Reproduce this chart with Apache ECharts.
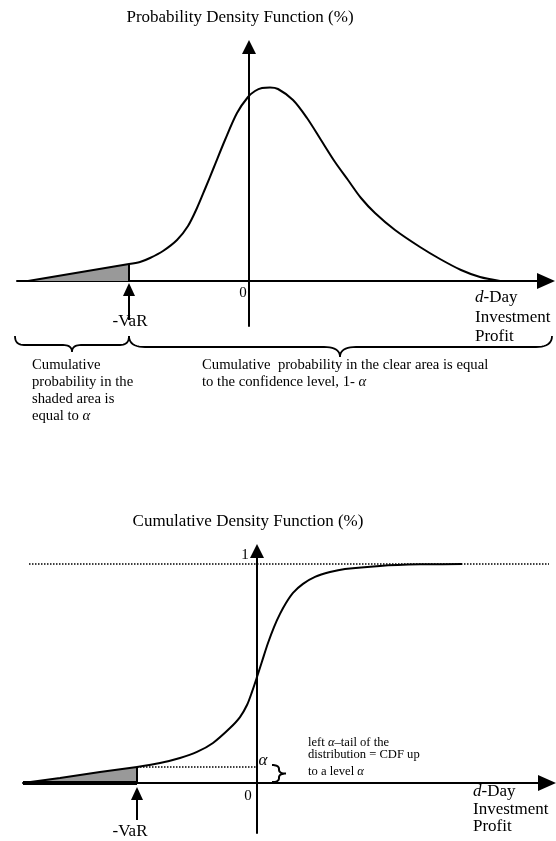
<!DOCTYPE html>
<html><head><meta charset="utf-8">
<script src="https://cdn.jsdelivr.net/npm/echarts@6/dist/echarts.min.js"></script>
<style>html,body{margin:0;padding:0;background:#fff}#c{width:556px;height:841px}</style>
</head><body><div id="c"></div>
<script>
// Profit (x) in arbitrary units, 0 = origin
const pdfX = [-22.1,-12.0,-10.9,-9.9,-8.6,-7.2,-6.1,-5.2,-4.4,-3.5,-2.4,-1.2,-0.1,0.6,1.3,2.1,2.9,4.4,5.8,7.2,8.6,9.9,11.2,12.6,14.6,17.1,19.1,21.2,23.1,25.1];
const pdfY = [0,1.7,1.9,2.3,3.0,4.1,5.5,7.3,9.2,11.4,14.1,16.8,18.4,19.0,19.3,19.35,19.2,18.1,16.3,14.1,11.9,10.1,8.3,6.8,5.1,3.4,2.2,1.1,0.4,0];
const cdfX = [-23.4,-19.7,-15.7,-12.0,-9.7,-7.7,-6.0,-4.4,-2.7,-1.7,-1.0,-0.5,0,0.5,1.1,1.7,2.3,2.9,3.6,4.6,5.8,7.3,8.8,12.3,16.3,20.5];
const cdfY = [0,0.023,0.050,0.073,0.091,0.114,0.142,0.183,0.251,0.301,0.356,0.416,0.484,0.555,0.639,0.712,0.772,0.822,0.868,0.909,0.941,0.963,0.977,0.991,0.998,1.0];
const varX = -12.0;
const alphaLevel = 0.073;
const cdfMax = 1;
const oneLineX = [-22.8, 29.3];

const FONT = '"Liberation Serif","Times New Roman",serif';
const chart = echarts.init(document.getElementById('c'), null, {renderer:'canvas'});

const pdfData = pdfX.map((x,i)=>[x,pdfY[i]]);
const cdfData = cdfX.map((x,i)=>[x,cdfY[i]]);
const pdfTail = pdfData.filter(p=>p[0]<=varX).concat([[varX,0]]);
const cdfTail = cdfData.filter(p=>p[0]<=varX).concat([[varX,0]]);
const pdfBody = pdfData.filter(p=>p[0]>=varX);
const cdfBody = cdfData.filter(p=>p[0]>=varX);

function axisX(grid, min, max){
  return {gridIndex:grid, type:'value', min:min, max:max,
    axisLine:{show:true, onZero:true, lineStyle:{color:'#000', width:2}, symbol:['none','triangle'], symbolSize:[16,18]},
    axisTick:{show:false}, axisLabel:{show:false}, splitLine:{show:false}};
}
function axisY(grid, min, max){
  return {gridIndex:grid, type:'value', min:min, max:max,
    axisLine:{show:true, onZero:true, lineStyle:{color:'#000', width:2}, symbol:['none','triangle'], symbolSize:[14,14]},
    axisTick:{show:false}, axisLabel:{show:false}, splitLine:{show:false}};
}
function arrowSeries(xi, yFrom, yTo){
  return {type:'line', xAxisIndex:xi, yAxisIndex:xi, data:[], symbol:'none',
    markLine:{silent:true, symbol:['none','triangle'], symbolSize:[12,13], animation:false,
      lineStyle:{color:'#000', width:2, type:'solid'}, label:{show:false},
      data:[[{coord:[varX,yFrom]},{coord:[varX,yTo]}]]}};
}

const option = {
  animation:false,
  backgroundColor:'#fff',
  grid:[
    {left:17, top:47, width:529, height:279},
    {left:23, top:551, width:524, height:282}
  ],
  xAxis:[axisX(0,-23.2,29.7), axisX(1,-23.4,29.0)],
  yAxis:[axisY(0,-4.5,23.4), axisY(1,-0.228,1.059)],
  series:[
    {type:'line', xAxisIndex:0, yAxisIndex:0, data:pdfBody, symbol:'none', smooth:0.3,
      lineStyle:{color:'#000', width:2}, z:3},
    {type:'line', xAxisIndex:0, yAxisIndex:0, data:pdfTail, symbol:'none',
      lineStyle:{color:'#000', width:2}, areaStyle:{color:'#999', opacity:1}, z:2},
    arrowSeries(0, -3.9, -0.85),
    {type:'line', xAxisIndex:1, yAxisIndex:1, data:cdfBody, symbol:'none', smooth:0.3,
      lineStyle:{color:'#000', width:2}, z:3},
    {type:'line', xAxisIndex:1, yAxisIndex:1, data:cdfTail, symbol:'none',
      lineStyle:{color:'#000', width:2}, areaStyle:{color:'#999', opacity:1}, z:2},
    {type:'line', xAxisIndex:1, yAxisIndex:1, data:[[cdfX[0],0],[varX,0]], symbol:'none',
      lineStyle:{color:'#000', width:4}, z:4},
    {type:'line', xAxisIndex:1, yAxisIndex:1, data:[[varX,alphaLevel],[0,alphaLevel]], symbol:'none',
      lineStyle:{color:'#000', width:1.5, type:[1.5,1.5]}, z:2},
    {type:'line', xAxisIndex:1, yAxisIndex:1, data:[[oneLineX[0],cdfMax],[oneLineX[1],cdfMax]], symbol:'none', clip:false,
      lineStyle:{color:'#000', width:1.5, type:[1.5,1.5]}, z:1},
    arrowSeries(1, -0.169, -0.048)
  ]
};
chart.setOption(option);

function txt(text, x, y, size, opts){
  opts = opts || {};
  const lh = opts.lh || size+2;
  return {type:'text', x:x, y:y, z:100, silent:true,
    style:{text:text, fill:'#000', font:(opts.italic?'italic ':'') + size+'px '+FONT,
      align:opts.align||'center', verticalAlign:opts.va||'middle', lineHeight:lh,
      rich:{i:{fontStyle:'italic', fontSize:size, fontFamily:FONT, lineHeight:lh}}}};
}
function quad(p0, c, p1, out){
  for (let k=1;k<=10;k++){
    const t=k/10, u=1-t;
    out.push([u*u*p0[0]+2*u*t*c[0]+t*t*p1[0], u*u*p0[1]+2*u*t*c[1]+t*t*p1[1]]);
  }
}
function hBrace(x1, x2, yT, yH, xm, yTip, r){
  const pts=[[x1,yT]];
  quad([x1,yT],[x1,yH],[x1+r,yH],pts);
  pts.push([xm-r,yH]);
  quad([xm-r,yH],[xm,yH],[xm,yTip],pts);
  quad([xm,yTip],[xm,yH],[xm+r,yH],pts);
  pts.push([x2-r,yH]);
  quad([x2-r,yH],[x2,yH],[x2,yT],pts);
  return {type:'polyline', silent:true, z:100, shape:{points:pts}, style:{stroke:'#000', lineWidth:1.8, fill:null}};
}
function vBrace(x, yT, yB, w){
  const ym=(yT+yB)/2, r=4, pts=[[x,yT]];
  quad([x,yT],[x+w,yT],[x+w,yT+r],pts);
  pts.push([x+w,ym-r]);
  quad([x+w,ym-r],[x+w,ym],[x+2*w,ym],pts);
  quad([x+2*w,ym],[x+w,ym],[x+w,ym+r],pts);
  pts.push([x+w,yB-r]);
  quad([x+w,yB-r],[x+w,yB],[x,yB],pts);
  return {type:'polyline', silent:true, z:100, shape:{points:pts}, style:{stroke:'#000', lineWidth:2, fill:null}};
}

const pVarTop = chart.convertToPixel({gridIndex:0}, [varX, 0]);
const pA = chart.convertToPixel({gridIndex:1}, [0, alphaLevel]);
const pO = chart.convertToPixel({gridIndex:1}, [0, 0]);

const graphics = [
  txt('Probability Density Function (%)', 240, 18, 17),
  txt('0', 243, 293, 15),
  txt('-VaR', 130, 322, 17),
  txt('{i|d}-Day\nInvestment\nProfit', 475, 288, 17, {align:'left', va:'top', lh:19.5}),
  txt('Cumulative\nprobability in the\nshaded area is\nequal to {i|α}', 32, 357, 14.7, {align:'left', va:'top', lh:17}),
  txt('Cumulative  probability in the clear area is equal\nto the confidence level, 1- {i|α}', 202, 357, 14.7, {align:'left', va:'top', lh:17}),
  hBrace(15, pVarTop[0], 336, 345, (15+pVarTop[0])/2, 352, 9),
  hBrace(pVarTop[0], 552, 336, 347, 340, 357, 16),

  txt('Cumulative Density Function (%)', 248, 522, 17),
  txt('1', 245, 555, 15),
  txt('0', 248, 796, 15),
  txt('α', 263, 761, 17, {italic:true}),
  txt('left {i|α}–tail of the\ndistribution = CDF up', 308, 736, 12.6, {align:'left', va:'top', lh:12.5}),
  txt('to a level {i|α}', 308, 772, 12.6, {align:'left'}),
  txt('{i|d}-Day\nInvestment\nProfit', 473, 783, 17, {align:'left', va:'top', lh:17.5}),
  txt('-VaR', 130, 832, 17),
  vBrace(pA[0]+15, pA[1]-2, pO[1]-1, 7)
];
chart.setOption({graphic:graphics});
</script>
</body></html>
